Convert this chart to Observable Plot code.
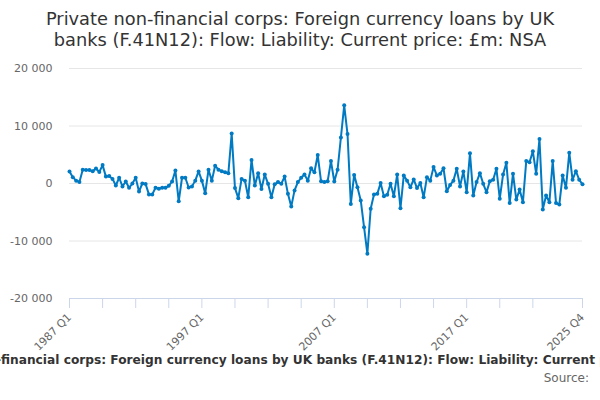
<!DOCTYPE html>
<html>
<head>
<meta charset="utf-8">
<script src="https://cdn.jsdelivr.net/npm/d3@7"></script>
<script src="https://cdn.jsdelivr.net/npm/@observablehq/plot@0.6"></script>
<style>
  body { margin:0; width:600px; height:400px; overflow:hidden; background:#fff; font-family:"DejaVu Sans", sans-serif; }
  #title { height:56px; box-sizing:border-box; padding-top:8px; text-align:center; font-size:17.8px; line-height:21px; color:#333; }
  #chart { height:290px; }
  #caption { position:relative; overflow:hidden; width:600px; height:17px; white-space:nowrap; font-weight:bold; font-size:12.2px; line-height:17px; color:#333; margin-top:6px; }
  #caption span.full { position:absolute; top:0; left:0; }
  #source { text-align:right; padding-right:11px; font-size:12px; color:#666; margin-top:2px; }
</style>
</head>
<body>
<div id="title">Private non-financial corps: Foreign currency loans by UK<br>banks (F.41N12): Flow: Liability: Current price: £m: NSA</div>
<div id="chart"></div>
<div id="caption"><span class="full"><span id="capPre">Private non-</span>financial corps: Foreign currency loans by UK banks (F.41N12): Flow: Liability: Current price: £m: NSA</span></div>
<div id="source">Source:</div>
<script>
const years = d3.range(1987, 2026);
const quarters = [];
for (const y of years) for (const q of [1,2,3,4]) quarters.push(y + " Q" + q);

const values = [
  2100, 1100, 500, 250, 2400, 2350, 2350, 2150, 2600, 2000,
  3200, 1200, 1300, 800, -350, 1000, -500, 350, -750, 0,
  1000, -1400, 0, -100, -1900, -1900, -750, -900, -750, -750,
  -400, 350, 2250, -3100, 1000, 1000, -700, -500, 500, 2100,
  500, -1700, 2400, 500, 3100, 2400, 2150, 1950, 1800, 8700,
  -800, -2550, 800, 500, -2400, 4100, -350, 1800, -950, 1550,
  -50, -2400, -150, 250, -50, 1200, -1800, -4000, -1200, 250,
  1000, 1550, 500, 2650, 1950, 4950, 400, 250, 400, 3900,
  350, 2400, 8000, 13600, 8600, -3550, 1500, -650, -2950, -7600,
  -12200, -4400, -1900, -1800, 100, -2200, -1950, -50, -2200, 1550,
  -4300, 1400, 500, -650, 700, -800, 100, -2400, 1100, 500,
  2850, 1400, 1700, 2650, -1350, -250, 500, 2550, -500, 2100,
  -1500, 5250, -2100, 250, 1800, -50, -1500, 400, 650, 2550,
  -2650, 1550, 3600, -3400, 1700, -2800, -1050, -3250, 3900, 3700,
  5600, 1700, 7750, -4500, -2100, -3250, 3900, -3400, -3650, 1400,
  -750, 5350, 650, 2150, 650, -150
];

const yTicks = [-20000, -10000, 0, 10000, 20000];
const xTickQuarters = ["1987 Q1","1989 Q3","1992 Q1","1994 Q3","1997 Q1","1999 Q3","2002 Q1","2004 Q3",
  "2007 Q1","2009 Q3","2012 Q1","2014 Q3","2017 Q1","2019 Q3","2022 Q1","2025 Q4"];
const xLabelQuarters = ["1987 Q1","1997 Q1","2007 Q1","2017 Q1","2025 Q4"];

const data = quarters.map((q, i) => ({q, v: values[i]}));
const fmt = d => (d < 0 ? "-" : "") + d3.format(",")(Math.abs(d)).replace(/,/g, " ");
const lineColor = "#007ac3";

const chart = Plot.plot({
  width: 600,
  height: 290,
  marginTop: 12,
  marginBottom: 48,
  marginLeft: 69,
  marginRight: 18,
  style: {fontFamily: "DejaVu Sans", fontSize: "11px", background: "transparent", overflow: "visible"},
  x: {type: "point", domain: quarters, padding: 0},
  y: {domain: [-20000, 20000]},
  marks: [
    Plot.ruleY(yTicks.filter(d => d > -20000), {stroke: "#e6e6e6", strokeWidth: 1}),
    Plot.ruleY([-20000], {stroke: "#ccd6eb", strokeWidth: 1}),
    Plot.axisY({ticks: yTicks, tickFormat: fmt, tickSize: 0, tickPadding: 17, fill: "#666", label: null}),
    Plot.axisX({ticks: xTickQuarters, tickFormat: () => "", tickSize: 10, stroke: "#ccd6eb", label: null}),
    Plot.axisX({ticks: xLabelQuarters, tickSize: 0, tickPadding: 17, tickRotate: -45, fill: "#666", label: null}),
    Plot.line(data, {x: "q", y: "v", stroke: lineColor, strokeWidth: 2}),
    Plot.dot(data, {x: "q", y: "v", r: 2, fill: lineColor})
  ]
});
document.getElementById("chart").appendChild(chart);

// shift the over-long caption so that its visible part matches the reference crop
const pre = document.getElementById("capPre").getBoundingClientRect().width;
document.querySelector("#caption span.full").style.left = (-pre + 1) + "px";
</script>
</body>
</html>
